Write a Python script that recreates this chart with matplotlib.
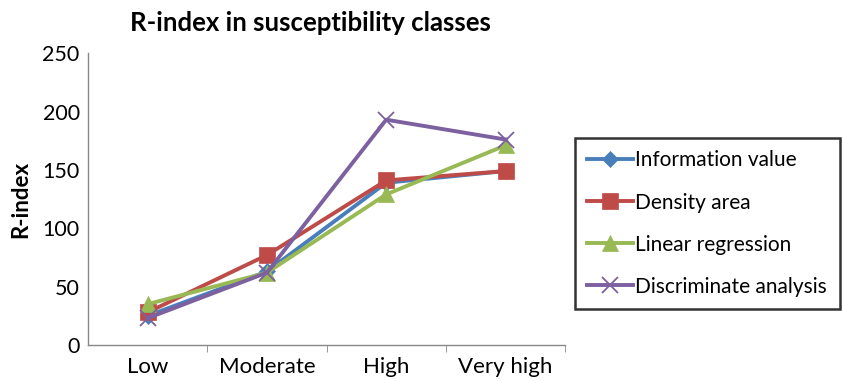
import matplotlib
matplotlib.use("Agg")
import matplotlib.pyplot as plt

plt.rcParams['font.family'] = ['Lato', 'DejaVu Sans']

categories = ["Low", "Moderate", "High", "Very high"]
information_value = [25, 63, 139, 149]
density_area = [28, 77, 141, 149]
linear_regression = [35, 62, 129, 171]
discriminate_analysis = [23, 62, 193, 176]

series = [
    ("Information value", information_value, "#4A7EBB", "D", 8),
    ("Density area", density_area, "#BE4B48", "s", 12),
    ("Linear regression", linear_regression, "#98B954", "^", 11),
    ("Discriminate analysis", discriminate_analysis, "#7D60A0", "x", 11),
]

fig = plt.figure(figsize=(8.43, 3.81), dpi=100)
ax = fig.add_axes([0.1044, 0.0945, 0.566, 0.766])

x = list(range(len(categories)))
for name, vals, color, marker, ms in series:
    ax.plot(x, vals, color=color, lw=2.8, marker=marker, markersize=ms,
            markeredgewidth=1.3 if marker == "x" else 0.5, label=name,
            solid_joinstyle="round")

ax.set_xlim(-0.5, len(categories) - 0.5)
ax.set_ylim(0, 250)
ax.set_yticks(range(0, 251, 50))
ax.set_xticks(x)
ax.set_xticklabels(categories)
ax.set_xticks([i + 0.5 for i in range(len(categories))], minor=True)
ax.tick_params(axis='x', which='major', length=0, pad=9, labelsize=16)
ax.tick_params(axis='x', which='minor', length=5, color="#888888", direction='out')
ax.tick_params(axis='y', length=0, pad=6, labelsize=15.5)

for side in ("top", "right"):
    ax.spines[side].set_visible(False)
for side in ("left", "bottom"):
    ax.spines[side].set_color("#888888")
    ax.spines[side].set_linewidth(1.0)

ax.set_ylabel("R-index", fontsize=16, fontweight="bold", labelpad=8)
fig.text(0.368, 0.94, "R-index in susceptibility classes", ha="center",
         va="center", fontsize=18.5, fontweight="bold")

leg = fig.legend(loc="upper left", bbox_to_anchor=(0.682, 0.638),
                 fontsize=15, frameon=True, fancybox=False,
                 handlelength=2.2, handletextpad=0.1, labelspacing=1.06,
                 borderpad=0.6, borderaxespad=0)
leg.get_frame().set_edgecolor("black")
leg.get_frame().set_linewidth(1.8)

fig.savefig("out.png", dpi=100)
